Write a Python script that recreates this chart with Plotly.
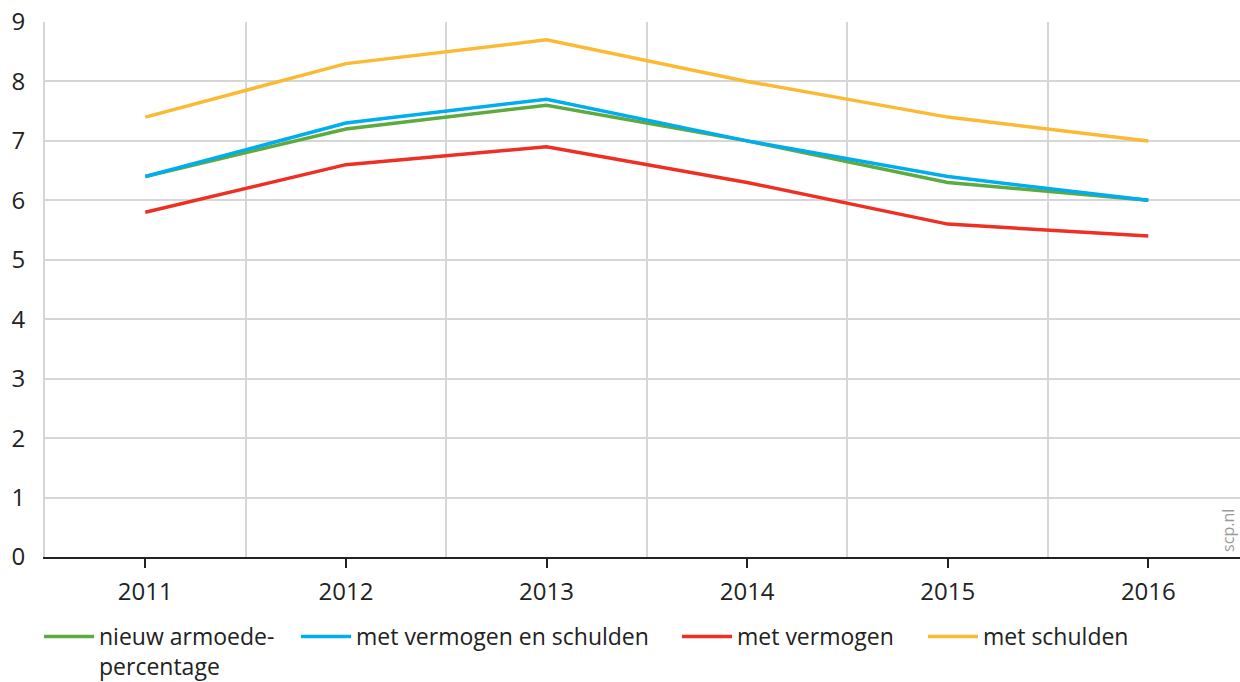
import plotly.graph_objects as go

years = [2011, 2012, 2013, 2014, 2015, 2016]
series_names = ["nieuw armoede-<br>percentage", "met vermogen en schulden", "met vermogen", "met schulden"]
nieuw = [6.4, 7.2, 7.6, 7.0, 6.3, 6.0]
verm_schuld = [6.4, 7.3, 7.7, 7.0, 6.4, 6.0]
vermogen = [5.8, 6.6, 6.9, 6.3, 5.6, 5.4]
schulden = [7.4, 8.3, 8.7, 8.0, 7.4, 7.0]
y_ticks = [0, 1, 2, 3, 4, 5, 6, 7, 8, 9]
boundaries = [2011.5, 2012.5, 2013.5, 2014.5, 2015.5]

colors = ["#5dab3f", "#00aeef", "#ee2f24", "#fbba33"]
values = [nieuw, verm_schuld, vermogen, schulden]
legend_ids = ["legend", "legend2", "legend3", "legend4"]
legend_x = [39, 296, 677, 923]

W, H = 1240, 682
FONT = "Open Sans"
fig = go.Figure()
for name, vals, col, lid in zip(series_names, values, colors, legend_ids):
    fig.add_trace(go.Scatter(x=years, y=vals, name=name, mode="lines",
                             line=dict(color=col, width=3.5), legend=lid))

leg_common = dict(orientation="h", xref="container", yref="container",
                  xanchor="left", yanchor="top", y=1 - 615 / H,
                  font=dict(family=FONT, size=23, color="#222222"),
                  bgcolor="rgba(0,0,0,0)", borderwidth=0, valign="top",
                  itemwidth=50)
layout_legends = {}
for lid, lx in zip(legend_ids, legend_x):
    layout_legends[lid] = dict(leg_common, x=lx / W)

fig.update_layout(
    width=W, height=H,
    margin=dict(l=45, r=0, t=22, b=125, autoexpand=False),
    plot_bgcolor="white", paper_bgcolor="white",
    font=dict(family=FONT, size=23, color="#222222"),
    showlegend=True,
    xaxis=dict(range=[2010.5, 2016.457], tickmode="array", tickvals=years,
               ticktext=[str(y) for y in years], showgrid=False,
               ticks="outside", ticklen=9, tickwidth=2, tickcolor="#222222",
               showline=True, linecolor="#222222", linewidth=2,
               zeroline=False, ticklabelstandoff=3,
               tickfont=dict(family=FONT, size=24, color="#222222"),
               minor=dict(tickmode="array", tickvals=boundaries, showgrid=True,
                          gridcolor="#d6d6d6", gridwidth=2, ticklen=0)),
    yaxis=dict(range=[0, 9], tickmode="array", tickvals=y_ticks,
               showgrid=True, gridcolor="#d6d6d6", gridwidth=2,
               showline=True, linecolor="#d6d6d6", linewidth=2,
               zeroline=False, ticks="", ticklabelstandoff=13,
               ticklabeloverflow="allow",
               tickfont=dict(family=FONT, size=24, color="#222222")),
    annotations=[dict(text="scp.nl", xref="paper", yref="paper", x=0.9905, y=0.05,
                      xanchor="center", yanchor="middle",
                      textangle=-90, showarrow=False,
                      font=dict(family=FONT, size=16, color="#9a9a9a"))],
    **layout_legends,
)

fig.write_html("out.html", config={"displayModeBar": False},
               post_script="document.body.style.margin='0';document.body.style.overflow='hidden';")
